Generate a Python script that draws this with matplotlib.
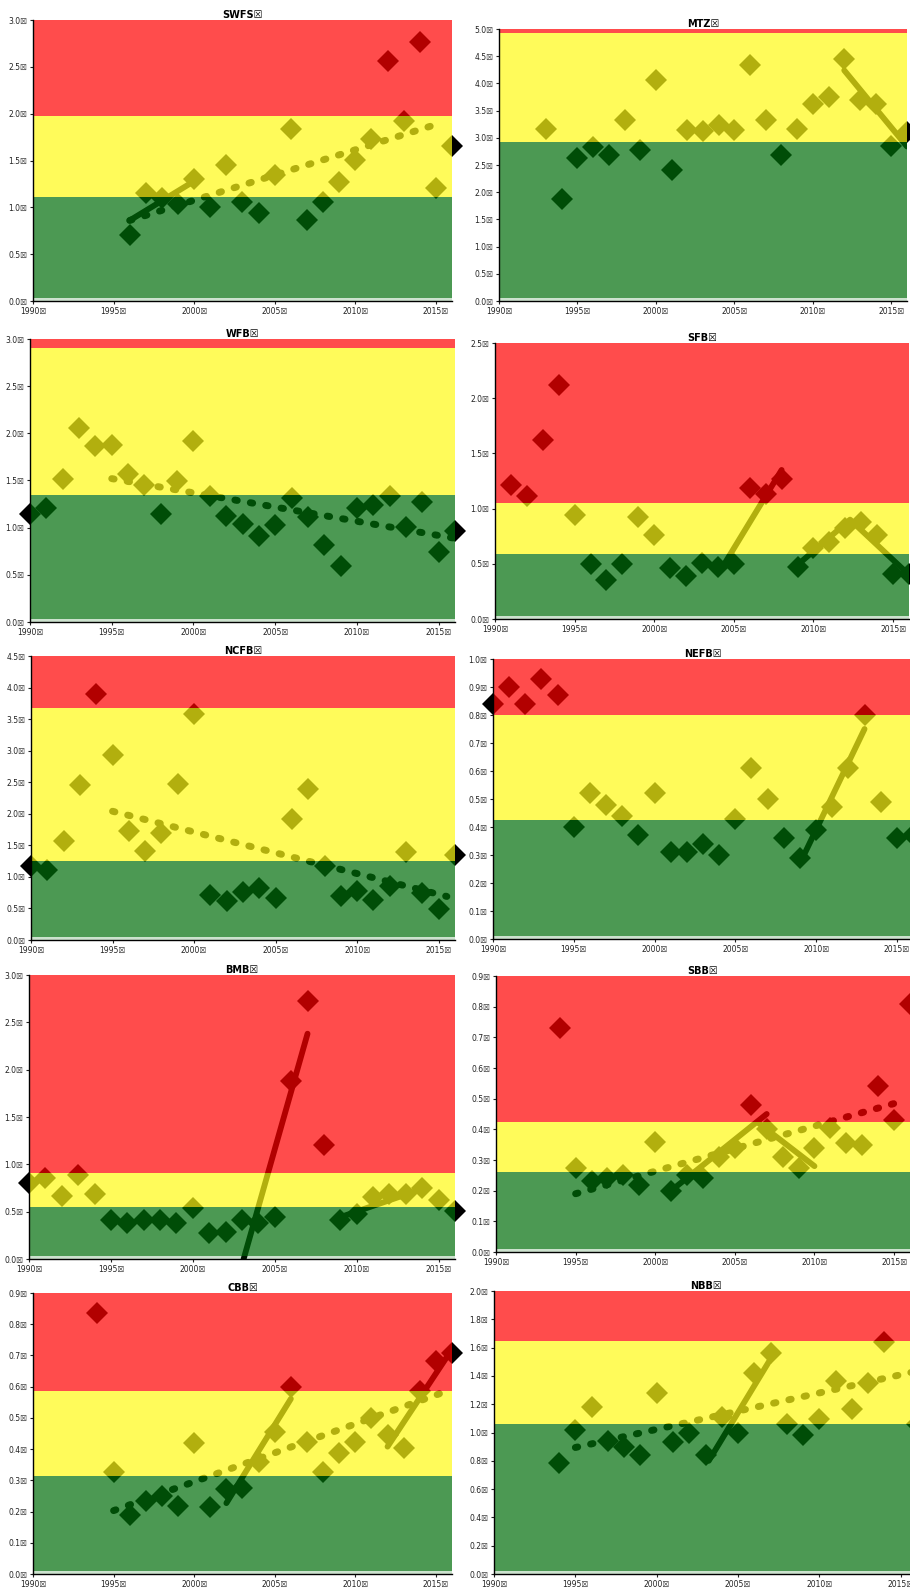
import numpy as np
import matplotlib
matplotlib.use('Agg')
from matplotlib import pyplot as plt
from matplotlib.ticker import FuncFormatter, MultipleLocator

# ---- data ----
# each panel: years, values, [green top, yellow top], dotted trend, solid segments

swfs_years = list(range(1996, 2017))
swfs_vals = [0.70, 1.15, 1.10, 1.04, 1.30, 1.00, 1.45, 1.06, 0.94, 1.35, 1.84,
             0.87, 1.06, 1.27, 1.51, 1.73, 2.56, 1.92, 2.77, 1.21, 1.66]
swfs_bands = [1.11, 1.98]
swfs_dotted = [[1996, 2015.3], [0.86, 1.90]]
swfs_solid = [[[1996, 2000], [0.86, 1.28]]]

mtz_years = list(range(1993, 2017))
mtz_vals = [3.16, 1.88, 2.63, 2.83, 2.69, 3.32, 2.78, 4.07, 2.40, 3.15, 3.12, 3.23,
            3.14, 4.34, 3.32, 2.69, 3.17, 3.63, 3.75, 4.44, 3.69, 3.63, 2.85, 3.10]
mtz_bands = [2.93, 4.93]
mtz_dotted = None
mtz_solid = [[[2012, 2016], [4.24, 2.84]]]

wfb_years = list(range(1990, 2017))
wfb_vals = [1.14, 1.21, 1.52, 2.06, 1.87, 1.88, 1.57, 1.45, 1.14, 1.49, 1.92, 1.34,
            1.12, 1.04, 0.91, 1.03, 1.31, 1.11, 0.82, 0.59, 1.21, 1.24, 1.34, 1.01,
            1.27, 0.74, 0.96]
wfb_bands = [1.35, 2.90]
wfb_dotted = [[1995, 2015.9], [1.52, 0.89]]
wfb_solid = []

sfb_years = list(range(1991, 2017))
sfb_vals = [1.21, 1.11, 1.62, 2.12, 0.94, 0.50, 0.35, 0.50, 0.92, 0.76, 0.46, 0.39,
            0.51, 0.47, 0.50, 1.19, 1.13, 1.27, 0.47, 0.64, 0.70, 0.82, 0.88, 0.76,
            0.41, 0.41]
sfb_bands = [0.59, 1.055]
sfb_dotted = None
sfb_solid = [[[2004.2, 2008], [0.45, 1.35]],
             [[2009, 2012.3, 2016], [0.49, 0.90, 0.40]]]

ncfb_years = list(range(1990, 2017))
ncfb_vals = [1.18, 1.11, 1.57, 2.45, 3.89, 2.93, 1.72, 1.41, 1.70, 2.47, 3.58, 0.72,
             0.62, 0.76, 0.83, 0.67, 1.92, 2.39, 1.17, 0.69, 0.78, 0.64, 0.85, 1.40,
             0.74, 0.49, 1.34]
ncfb_bands = [1.25, 3.68]
ncfb_dotted = [[1995, 2015.5], [2.04, 0.69]]
ncfb_solid = []

nefb_years = list(range(1990, 2017))
nefb_vals = [0.84, 0.90, 0.84, 0.93, 0.87, 0.40, 0.52, 0.48, 0.44, 0.37, 0.52, 0.31,
             0.31, 0.34, 0.30, 0.43, 0.61, 0.50, 0.36, 0.29, 0.39, 0.47, 0.61, 0.80,
             0.49, 0.36, 0.37]
nefb_bands = [0.425, 0.80]
nefb_dotted = None
nefb_solid = [[[2009, 2013], [0.27, 0.75]]]

bmb_years = list(range(1990, 2017))
bmb_vals = [0.80, 0.86, 0.67, 0.89, 0.69, 0.41, 0.38, 0.41, 0.41, 0.38, 0.54, 0.27,
            0.28, 0.41, 0.38, 0.44, 1.88, 2.73, 1.20, 0.41, 0.48, 0.65, 0.69, 0.69,
            0.75, 0.62, 0.51]
bmb_bands = [0.55, 0.91]
bmb_dotted = None
bmb_solid = [[[2003.1, 2007], [0.0, 2.38]],
             [[2009.3, 2014], [0.46, 0.74]]]

sbb_years = list(range(1994, 2017))
sbb_vals = [0.73, 0.275, 0.23, 0.24, 0.25, 0.22, 0.36, 0.20, 0.25, 0.24, 0.31, 0.34,
            0.48, 0.40, 0.31, 0.275, 0.34, 0.405, 0.355, 0.35, 0.54, 0.43, 0.81]
sbb_bands = [0.26, 0.425]
sbb_dotted = [[1995, 2015.4], [0.19, 0.49]]
sbb_solid = [[[2001, 2007], [0.20, 0.45]],
             [[2006.5, 2010], [0.42, 0.28]]]

cbb_years = list(range(1994, 2017))
cbb_vals = [0.835, 0.326, 0.188, 0.235, 0.25, 0.219, 0.421, 0.216, 0.271, 0.277,
            0.36, 0.454, 0.60, 0.424, 0.326, 0.389, 0.424, 0.499, 0.446, 0.405,
            0.585, 0.681, 0.708]
cbb_bands = [0.315, 0.587]
cbb_dotted = [[1995, 2015.8], [0.203, 0.588]]
cbb_solid = [[[2002, 2006], [0.227, 0.561]],
             [[2012, 2016], [0.408, 0.72]]]

nbb_years = [1994, 1995, 1996, 1997, 1998, 1999, 2000, 2001, 2002, 2003, 2004, 2005,
             2006, 2007, 2008, 2009, 2010, 2011, 2012, 2013, 2014, 2016]
nbb_vals = [0.785, 1.017, 1.177, 0.939, 0.894, 0.84, 1.28, 0.934, 0.993, 0.844, 1.11,
            0.993, 1.417, 1.559, 1.059, 0.981, 1.094, 1.363, 1.163, 1.347, 1.637, 1.06]
nbb_bands = [1.057, 1.646]
nbb_dotted = [[1995, 2016], [0.894, 1.434]]
nbb_solid = [[[2003.2, 2007], [0.80, 1.52]]]

titles = ['SWFS', 'MTZ', 'WFB', 'SFB', 'NCFB', 'NEFB', 'BMB', 'SBB', 'CBB', 'NBB']
ymaxes = [3.0, 5.0, 3.0, 2.5, 4.5, 1.0, 3.0, 0.9, 0.9, 2.0]
ysteps = [0.5, 0.5, 0.5, 0.5, 0.5, 0.1, 0.5, 0.1, 0.1, 0.2]

panels = [
    (swfs_years, swfs_vals, swfs_bands, swfs_dotted, swfs_solid),
    (mtz_years, mtz_vals, mtz_bands, mtz_dotted, mtz_solid),
    (wfb_years, wfb_vals, wfb_bands, wfb_dotted, wfb_solid),
    (sfb_years, sfb_vals, sfb_bands, sfb_dotted, sfb_solid),
    (ncfb_years, ncfb_vals, ncfb_bands, ncfb_dotted, ncfb_solid),
    (nefb_years, nefb_vals, nefb_bands, nefb_dotted, nefb_solid),
    (bmb_years, bmb_vals, bmb_bands, bmb_dotted, bmb_solid),
    (sbb_years, sbb_vals, sbb_bands, sbb_dotted, sbb_solid),
    (cbb_years, cbb_vals, cbb_bands, cbb_dotted, cbb_solid),
    (nbb_years, nbb_vals, nbb_bands, nbb_dotted, nbb_solid),
]

# axes boxes in pixels: left, top, right, bottom
W, H = 910, 1591
boxes = [
    (33, 20, 452, 301), (499, 29, 907, 301),
    (30, 339, 455, 622), (495, 343, 909, 619),
    (31, 656, 455, 940), (493, 659, 913, 939),
    (29, 975, 455, 1259), (496, 976, 910, 1252),
    (33, 1293, 452, 1574), (494, 1291, 917, 1574),
]

RED = (1.0, 0.0, 0.0)
YEL = (1.0, 0.98, 0.08)
GRN = (0.0, 0.43, 0.04)
BOX = '\u2612'

fig = plt.figure(figsize=(W / 100, H / 100), dpi=100)

for i, (yrs, vals, bands, dotted, solid) in enumerate(panels):
    l, t, r, b = boxes[i]
    ax = fig.add_axes([l / W, 1 - b / H, (r - l) / W, (b - t) / H])
    ymax = ymaxes[i]
    ax.set_xlim(1990, 2016)
    ax.set_ylim(0, ymax)

    # black marks underneath, tinted by the translucent bands on top
    ax.plot(yrs, vals, 'D', color='k', ms=11.5, mew=0, clip_on=False, zorder=1)
    if dotted is not None:
        ax.plot(dotted[0], dotted[1], color='k', lw=5.0, ls=(0, (0.35, 1.9)),
                dash_capstyle='round', zorder=1)
    for sx, sy in solid:
        ax.plot(sx, sy, color='k', lw=4.2, solid_capstyle='round', zorder=1)

    g0 = ymax * 0.012
    ax.axhspan(0, g0, color=GRN, alpha=0.2, lw=0, zorder=2)
    ax.axhspan(g0, bands[0], color=GRN, alpha=0.7, lw=0, zorder=2)
    ax.axhspan(bands[0], bands[1], color=YEL, alpha=0.7, lw=0, zorder=2)
    ax.axhspan(bands[1], ymax, color=RED, alpha=0.7, lw=0, zorder=2)

    ax.xaxis.set_major_locator(MultipleLocator(5))
    ax.yaxis.set_major_locator(MultipleLocator(ysteps[i]))
    ax.xaxis.set_major_formatter(FuncFormatter(lambda v, p: '%d%s' % (v, BOX)))
    ax.yaxis.set_major_formatter(FuncFormatter(lambda v, p: '%.1f%s' % (v, BOX)))
    ax.tick_params(labelsize=5.5, length=2.5, width=0.8, pad=1.5, colors='#222222')
    ax.spines['top'].set_visible(False)
    ax.spines['right'].set_visible(False)
    ax.spines['left'].set_linewidth(1.0)
    ax.spines['bottom'].set_linewidth(1.0)
    ax.set_facecolor('white')
    ax.set_title(titles[i] + BOX, fontsize=7, fontweight='bold', pad=0.5)

fig.savefig('out.png', dpi=100)
